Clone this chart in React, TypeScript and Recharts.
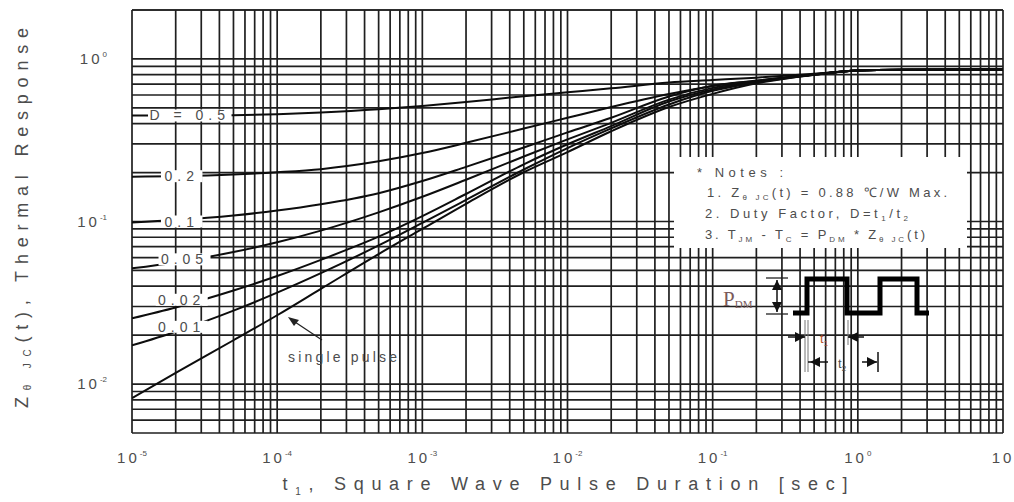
import { LineChart, Line, XAxis, YAxis, CartesianGrid, ReferenceDot } from "recharts";

const FONT = '"Liberation Sans", Arial, sans-serif';
const INK = "#4d4d4d";
const CURVE = "#0d0d0d";

// pulse duration t1 [sec]
const durations = [1e-5, 2e-5, 5e-5, 1e-4, 2e-4, 5e-4, 1e-3, 2e-3, 5e-3, 1e-2, 2e-2, 5e-2, 1e-1, 2e-1, 5e-1, 1, 2, 5, 10];

// normalised thermal response per duty factor
const duty050 = [0.4487, 0.4487, 0.4508, 0.4571, 0.4688, 0.4909, 0.514, 0.5433, 0.5902, 0.6237, 0.6592, 0.7161, 0.7413, 0.7674, 0.811, 0.85, 0.858, 0.86, 0.86];
const duty020 = [0.1888, 0.1901, 0.1945, 0.2009, 0.2099, 0.2344, 0.2636, 0.3048, 0.3733, 0.4345, 0.5058, 0.6081, 0.6823, 0.7362, 0.7998, 0.85, 0.858, 0.86, 0.86];
const duty010 = [0.0986, 0.1021, 0.1089, 0.1167, 0.1276, 0.1493, 0.1774, 0.2168, 0.2851, 0.3532, 0.4345, 0.5875, 0.6839, 0.7328, 0.8035, 0.85, 0.858, 0.86, 0.86];
const duty005 = [0.0515, 0.056, 0.0649, 0.0745, 0.0879, 0.1138, 0.1419, 0.1807, 0.2512, 0.3199, 0.4046, 0.5623, 0.6637, 0.7261, 0.8035, 0.85, 0.858, 0.86, 0.86];
const duty002 = [0.0254, 0.0296, 0.0376, 0.0462, 0.0581, 0.0807, 0.1079, 0.1476, 0.2249, 0.2985, 0.3864, 0.547, 0.6486, 0.7211, 0.8017, 0.85, 0.858, 0.86, 0.86];
const duty001 = [0.0173, 0.021, 0.0283, 0.0365, 0.0481, 0.0713, 0.0982, 0.1358, 0.2089, 0.2831, 0.3741, 0.5248, 0.6368, 0.7161, 0.7998, 0.85, 0.858, 0.86, 0.86];
const singlePulse = [0.0082, 0.0117, 0.0186, 0.0265, 0.0385, 0.063, 0.09, 0.1285, 0.2009, 0.2673, 0.3589, 0.5058, 0.6095, 0.708, 0.798, 0.85, 0.858, 0.86, 0.86];

// axis ticks (grid on every 1..9 x decade, labels on decades)
const xDecades = [1e-5, 1e-4, 1e-3, 1e-2, 1e-1, 1, 10];
const yDecades = [1e-3, 1e-2, 1e-1, 1];
const mantissas = [1, 2, 3, 4, 5, 6, 7, 8, 9];
const xDomain = [1e-5, 10];
const yDomain = [0.005, 2];

// curve labels, placed on the curves in data units
const dutyLabels = [
  { text: "D = 0.5", t: 2.5e-5, z: 0.449 },
  { text: "0.2", t: 2.2e-5, z: 0.19 },
  { text: "0.1", t: 2.2e-5, z: 0.1 },
  { text: "0.05", t: 2.3e-5, z: 0.0585 },
  { text: "0.02", t: 2.2e-5, z: 0.033 },
  { text: "0.01", t: 2.2e-5, z: 0.0225 },
];
const singlePulseTip = { t: 1.15e-4, z: 0.0262 };

const series = [
  { key: "d050", values: duty050 },
  { key: "d020", values: duty020 },
  { key: "d010", values: duty010 },
  { key: "d005", values: duty005 },
  { key: "d002", values: duty002 },
  { key: "d001", values: duty001 },
  { key: "single", values: singlePulse },
];

const data = durations.map((t, i) => {
  const row: Record<string, number> = { t };
  series.forEach((s) => (row[s.key] = s.values[i]));
  return row;
});

const within = (v: number, [lo, hi]: number[]) => v >= lo * 0.9999 && v <= hi * 1.0001;
const xTicks = xDecades.flatMap((d) => mantissas.map((m) => m * d)).filter((v) => within(v, xDomain));
const yTicks = [...yDecades.flatMap((d) => mantissas.map((m) => m * d)), 2].filter((v) => within(v, yDomain));

const isDecade = (v: number) => Math.abs(Math.log10(v) - Math.round(Math.log10(v))) < 1e-6;

function XTick({ x, y, payload }: any) {
  const v = payload.value;
  if (!isDecade(v)) return null;
  const e = Math.round(Math.log10(v));
  return (
    <text x={x} y={y + 30} textAnchor="middle" fontFamily={FONT} fontSize={15} letterSpacing={3} fill={INK}>
      10
      {e !== 1 && (
        <tspan dy={-7} fontSize={8} letterSpacing={0}>
          {e}
        </tspan>
      )}
    </text>
  );
}

function YTick({ x, y, payload }: any) {
  const v = payload.value;
  if (!isDecade(v)) return null;
  const e = Math.round(Math.log10(v));
  return (
    <text x={x - 25} y={y + 5} textAnchor="end" fontFamily={FONT} fontSize={15} letterSpacing={3} fill={INK}>
      10
      <tspan dy={-7} fontSize={8} letterSpacing={0}>
        {e}
      </tspan>
    </text>
  );
}

function DutyLabel({ cx, cy, text }: any) {
  const w = text.length * 10.5 + 10;
  return (
    <g>
      <rect x={cx - w / 2} y={cy - 6} width={w} height={12} fill="#fff" />
      <text x={cx} y={cy + 5} textAnchor="middle" fontFamily={FONT} fontSize={14} letterSpacing={5} fill={INK}>
        {text}
      </text>
    </g>
  );
}

function SinglePulseNote({ cx, cy }: any) {
  return (
    <g>
      <line x1={cx + 36} y1={cy + 24} x2={cx + 6} y2={cy + 4} stroke="#222" strokeWidth={1.3} />
      <polygon points={`${cx + 2},${cy + 1} ${cx + 13},${cy + 4} ${cx + 8},${cy + 10}`} fill="#222" />
      <text x={cx + 2} y={cy + 46} fontFamily={FONT} fontSize={14} textLength={109} lengthAdjust="spacing" fill={INK}>
        single pulse
      </text>
    </g>
  );
}

function Arrow({ x, y, dir }: { x: number; y: number; dir: "l" | "r" | "u" | "d" }) {
  const s = 5;
  const pts =
    dir === "r"
      ? `${x},${y} ${x - 2 * s},${y - s} ${x - 2 * s},${y + s}`
      : dir === "l"
      ? `${x},${y} ${x + 2 * s},${y - s} ${x + 2 * s},${y + s}`
      : dir === "u"
      ? `${x},${y} ${x - s},${y + 2 * s} ${x + s},${y + 2 * s}`
      : `${x},${y} ${x - s},${y - 2 * s} ${x + s},${y - 2 * s}`;
  return <polygon points={pts} fill="#111" />;
}

function Overlay() {
  const sub = { fontSize: 8 };
  return (
    <svg width={1014} height={502} style={{ position: "absolute", left: 0, top: 0, pointerEvents: "none" }}>
      {/* axis titles */}
      <text
        x={22}
        y={218}
        transform="rotate(-90 22 218)"
        textAnchor="middle"
        dominantBaseline="central"
        fontFamily={FONT}
        fontSize={18}
        fill={INK}
        textLength={380}
        lengthAdjust="spacing"
      >
        Z
        <tspan fontSize={10} dy={5}>
          θ JC
        </tspan>
        <tspan dy={-5}>(t), Thermal Response</tspan>
      </text>
      <text x={565} y={490} textAnchor="middle" fontFamily={FONT} fontSize={18} fill={INK} textLength={565} lengthAdjust="spacing">
        t
        <tspan fontSize={10} dy={5}>
          1
        </tspan>
        <tspan dy={-5}>, Square Wave Pulse Duration [sec]</tspan>
      </text>

      {/* notes */}
      <rect x={674} y={157} width={293} height={91} fill="#fff" />
      <g fontFamily={FONT} fontSize={13} fill={INK}>
        <text x={697} y={177} textLength={86} lengthAdjust="spacing">
          * Notes :
        </text>
        <text x={707} y={197} textLength={240} lengthAdjust="spacing">
          1. Z<tspan {...sub} dy={3}>θ JC</tspan>
          <tspan dy={-3}>(t) = 0.88 ℃/W Max.</tspan>
        </text>
        <text x={705} y={218} textLength={203} lengthAdjust="spacing">
          2. Duty Factor, D=t<tspan {...sub} dy={3}>1</tspan>
          <tspan dy={-3}>/t</tspan>
          <tspan {...sub} dy={3}>2</tspan>
        </text>
        <text x={705} y={239} textLength={220} lengthAdjust="spacing">
          3. T<tspan {...sub} dy={3}>JM</tspan>
          <tspan dy={-3}> - T</tspan>
          <tspan {...sub} dy={3}>C</tspan>
          <tspan dy={-3}> = P</tspan>
          <tspan {...sub} dy={3}>DM</tspan>
          <tspan dy={-3}> * Z</tspan>
          <tspan {...sub} dy={3}>θ JC</tspan>
          <tspan dy={-3}>(t)</tspan>
        </text>
      </g>

      {/* pulse train sketch */}
      <polyline
        points="793,313 807,313 807,279 847,279 847,313 880,313 880,279 917,279 917,313 929,313"
        fill="none"
        stroke="#000"
        strokeWidth={5}
      />
      <text x={723} y={306} fontFamily='"Liberation Serif", serif' fontSize={21} fill="#7a5a5a">
        P<tspan fontSize={11} dy={2}>DM</tspan>
      </text>
      <line x1={766} y1={278} x2={788} y2={278} stroke="#222" strokeWidth={1.3} />
      <line x1={766} y1={314} x2={788} y2={314} stroke="#222" strokeWidth={1.3} />
      <line x1={777} y1={280} x2={777} y2={312} stroke="#111" strokeWidth={1.5} />
      <Arrow x={777} y={280} dir="u" />
      <Arrow x={777} y={312} dir="d" />

      <line x1={805} y1={320} x2={805} y2={372} stroke="#777" strokeWidth={1} />
      <line x1={808} y1={320} x2={808} y2={372} stroke="#777" strokeWidth={1} />
      <line x1={848} y1={320} x2={848} y2={345} stroke="#777" strokeWidth={1} />
      <line x1={788} y1={337} x2={805} y2={337} stroke="#111" strokeWidth={1.5} />
      <Arrow x={805} y={337} dir="r" />
      <line x1={848} y1={337} x2={864} y2={337} stroke="#111" strokeWidth={1.5} />
      <Arrow x={848} y={337} dir="l" />
      <text x={820} y={343} fontFamily={FONT} fontSize={13} fill="#b5532f">
        t<tspan fontSize={8} dy={3}>1</tspan>
      </text>

      <line x1={808} y1={362} x2={828} y2={362} stroke="#111" strokeWidth={1.5} />
      <Arrow x={810} y={362} dir="l" />
      <line x1={862} y1={362} x2={877} y2={362} stroke="#111" strokeWidth={1.5} />
      <Arrow x={877} y={362} dir="r" />
      <line x1={878} y1={352} x2={878} y2={372} stroke="#111" strokeWidth={1.5} />
      <text x={838} y={368} fontFamily={FONT} fontSize={13} fill={INK}>
        t<tspan fontSize={8} dy={3}>2</tspan>
      </text>
    </svg>
  );
}

export default function App() {
  return (
    <div style={{ position: "absolute", left: 0, top: 0, width: 1014, height: 502, background: "#fff" }}>
      <LineChart width={1014} height={502} data={data} margin={{ top: 10, right: 11, bottom: 0, left: 0 }}>
        <CartesianGrid stroke="#1f1f1f" strokeWidth={1.7} />
        <XAxis
          dataKey="t"
          type="number"
          scale="log"
          domain={xDomain}
          ticks={xTicks}
          interval={0}
          height={69}
          tickSize={0}
          tickMargin={0}
          axisLine={false}
          tickLine={false}
          allowDataOverflow
          tick={(p: any) => <XTick {...p} />}
        />
        <YAxis
          type="number"
          scale="log"
          domain={yDomain}
          ticks={yTicks}
          interval={0}
          width={132}
          tickSize={0}
          tickMargin={0}
          axisLine={false}
          tickLine={false}
          allowDataOverflow
          tick={(p: any) => <YTick {...p} />}
        />
        {series.map((s) => (
          <Line
            key={s.key}
            dataKey={s.key}
            type="monotone"
            stroke={CURVE}
            strokeWidth={2}
            dot={false}
            isAnimationActive={false}
          />
        ))}
        {dutyLabels.map((l) => (
          <ReferenceDot
            key={l.text}
            x={l.t}
            y={l.z}
            r={0}
            ifOverflow="visible"
            shape={(p: any) => <DutyLabel cx={p.cx} cy={p.cy} text={l.text} />}
          />
        ))}
        <ReferenceDot
          x={singlePulseTip.t}
          y={singlePulseTip.z}
          r={0}
          ifOverflow="visible"
          shape={(p: any) => <SinglePulseNote cx={p.cx} cy={p.cy} />}
        />
      </LineChart>
      <Overlay />
    </div>
  );
}
